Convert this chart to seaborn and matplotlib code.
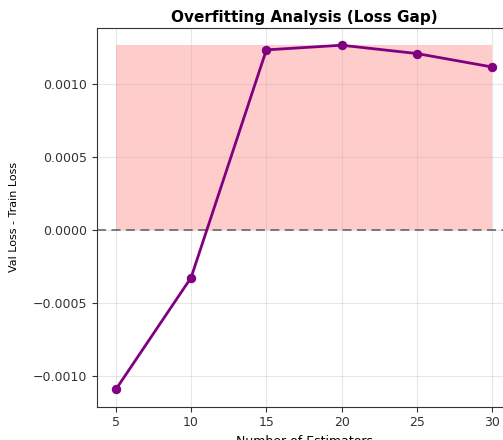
import matplotlib
matplotlib.use("Agg")
import matplotlib.pyplot as plt
import seaborn as sns
import numpy as np
import pandas as pd

n_estimators = [5, 10, 15, 20, 25, 30]
loss_gap = [-0.001089, -0.000324, 0.001233, 0.001265, 0.001208, 0.001116]

df = pd.DataFrame({"n_estimators": n_estimators, "gap": loss_gap})

fig = plt.figure(figsize=(5.03, 4.40), dpi=100)
ax = fig.add_axes([97/503, 33.3/440, 414/503, 378.7/440])

ax.fill_between(n_estimators, 0, max(loss_gap), color="red", alpha=0.2, linewidth=0)
ax.axhline(0, color="#555555", linestyle="--", linewidth=1.3, alpha=0.8, dashes=(5, 3))
sns.lineplot(data=df, x="n_estimators", y="gap", ax=ax, color="purple",
             marker="o", markersize=6, linewidth=2, markeredgecolor="purple")

ax.set_xticks(n_estimators)
ax.set_yticks([-0.0010, -0.0005, 0.0, 0.0005, 0.0010])
ax.grid(True, alpha=0.3)
ax.tick_params(labelsize=9, colors="#333333", labelcolor="#333333")
ax.set_title("Overfitting Analysis (Loss Gap)", fontsize=11, fontweight="bold", pad=4)
ax.set_xlabel("Number of Estimators", fontsize=9, labelpad=4)
ax.set_ylabel("Val Loss - Train Loss", fontsize=8, labelpad=10)
for s in ax.spines.values():
    s.set_color("#333333")

fig.savefig("out.png", dpi=100)
